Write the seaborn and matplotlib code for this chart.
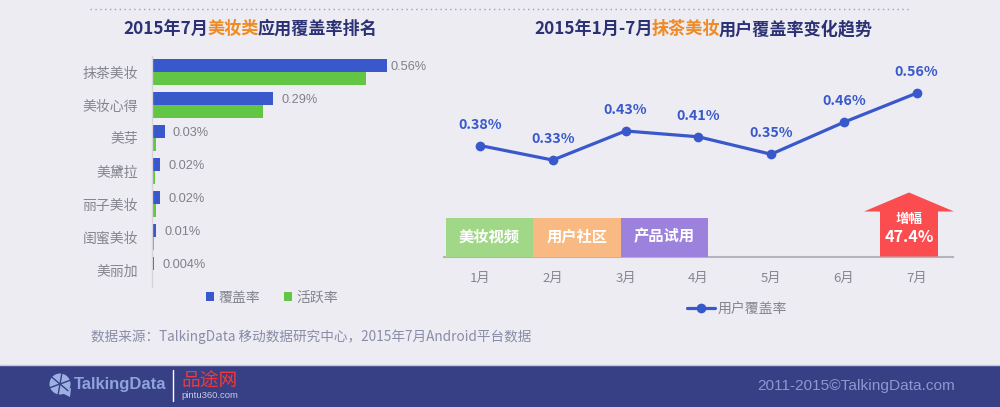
import numpy as np
import pandas as pd
import seaborn as sns
import matplotlib
matplotlib.use('Agg')
import matplotlib.pyplot as plt
from matplotlib.patches import Polygon, Rectangle, Circle

# Left chart data
apps = ['抹茶美妆', '美妆心得', '美芽', '美黛拉', '丽子美妆', '闺蜜美妆', '美丽加']
coverage = [0.56, 0.29, 0.03, 0.02, 0.02, 0.01, 0.004]
activity = [0.511, 0.265, 0.010, 0.008, 0.009, 0.005, 0.0]
coverage_labels = ['0.56%', '0.29%', '0.03%', '0.02%', '0.02%', '0.01%', '0.004%']

# Right chart data
months = ['1月', '2月', '3月', '4月', '5月', '6月', '7月']
trend = [0.38, 0.33, 0.43, 0.41, 0.35, 0.46, 0.56]

BG = '#ECECF2'
BLUE = '#3858CC'
GREEN = '#62C644'
NAVY = '#2B3174'
ORANGE = '#F08A24'
GREY = '#85858F'
W, H = 1000, 407

sns.set_theme(style='white')
plt.rcParams['font.family'] = ['Noto Sans CJK SC', 'DejaVu Sans']
plt.rcParams['axes.unicode_minus'] = False


def px_axes(left, top, right, bottom, **kw):
    return fig.add_axes([left / W, 1 - bottom / H, (right - left) / W, (bottom - top) / H], **kw)


def color_title(x_center, y, parts, size=12.3):
    # parts are drawn one after another, so measure the widths first
    renderer = fig.canvas.get_renderer()
    pieces = [over.text(0, y, t, color=c, fontsize=size, fontweight='bold', va='center_baseline') for t, c in parts]
    widths = [p.get_window_extent(renderer).width - 1 for p in pieces]
    x = x_center - sum(widths) / 2
    for p, w in zip(pieces, widths):
        p.set_x(x)
        x += w


fig = plt.figure(figsize=(W / 100, H / 100), dpi=100, facecolor=BG)

# Overlay in pixel coordinates for titles, blocks and footer
over = fig.add_axes([0, 0, 1, 1], zorder=5)
over.set_xlim(0, W)
over.set_ylim(H, 0)
over.axis('off')

# Left: horizontal bars
ax = px_axes(152, 55.5, 432, 286.5, facecolor='none')
bars = pd.DataFrame({'app': apps * 2,
                     'rate': coverage + activity,
                     'metric': ['覆盖率'] * 7 + ['活跃率'] * 7})
sns.barplot(data=bars, y='app', x='rate', hue='metric', palette=[BLUE, GREEN],
            width=0.79, saturation=1, linewidth=0, ax=ax)
ax.set_xlim(0, 280 / 418.75)
ax.set_xlabel('')
ax.set_ylabel('')
ax.set_xticks([])
sns.despine(ax=ax, top=True, right=True, bottom=True)
ax.spines['left'].set_color('#D4D4DA')
ax.spines['left'].set_linewidth(1)
ax.tick_params(axis='y', length=0, pad=10, labelsize=10, labelcolor=GREY)
for bar, label, offset in zip(ax.containers[0], coverage_labels, [3] + [6] * 6):
    ax.annotate(label, (bar.get_width(), bar.get_y() + bar.get_height() / 2),
                xytext=(offset, -1), textcoords='offset points', va='center',
                family='Liberation Sans', fontsize=9.2, color='#808088')
ax.legend(loc='center', bbox_to_anchor=(272 / W, 1 - 297.5 / H), bbox_transform=fig.transFigure,
          ncol=2, frameon=False, fontsize=10, labelcolor=GREY, handlelength=0.58, handleheight=0.58,
          handletextpad=0.3, columnspacing=1.75)

# Right: coverage line
ax2 = px_axes(443.6, 60, 953, 257, facecolor='none')
line = pd.DataFrame({'month': months, 'rate': trend, 'series': '用户覆盖率'})
sns.lineplot(data=line, x='month', y='rate', hue='series', palette=[BLUE], sort=False,
             marker='o', markersize=7, markeredgewidth=0, linewidth=2.3, ax=ax2)
ax2.set_xlim(-0.5, 6.5)
ax2.set_ylim(-0.0033, 0.674)
ax2.set_xlabel('')
ax2.set_ylabel('')
ax2.set_yticks([])
sns.despine(ax=ax2, top=True, right=True, left=True)
ax2.spines['bottom'].set_color('#B4B4BC')
ax2.spines['bottom'].set_linewidth(1.5)
ax2.tick_params(axis='x', length=0, pad=10.5, labelsize=9.5, labelcolor=GREY)
for i, v in enumerate(trend):
    ax2.annotate(f'{v:.2f}%', (i, v), xytext=(0, 10), textcoords='offset points', ha='center',
                 va='bottom', fontsize=10.3, fontweight='bold', color=BLUE)
ax2.legend(loc='center', bbox_to_anchor=(737 / W, 1 - 309 / H), bbox_transform=fig.transFigure,
           frameon=False, fontsize=10, labelcolor=GREY, handlelength=2.05, handletextpad=0.2)

# Dotted rule and titles
over.plot([90, 908], [9, 9], color='#9A9AE8', linewidth=1, linestyle=(0, (1, 2.5)))
color_title(250, 27, [('2015年7月', NAVY), ('美妆类', ORANGE), ('应用覆盖率排名', NAVY)])
color_title(703, 27, [('2015年1月-7月', NAVY), ('抹茶美妆', ORANGE), ('用户覆盖率变化趋势', NAVY)])

# Feature blocks above the axis
blocks = [(446, 533, '#A0D888', '美妆视频'), (533, 621, '#F8BA82', '用户社区'), (621, 708, '#9C82DC', '产品试用')]
for x0, x1, c, name in blocks:
    over.add_patch(Rectangle((x0, 217.5), x1 - x0, 39, color=c, linewidth=0))
    over.text((x0 + x1) / 2, 241.5, name, color='white', fontsize=11, fontweight='bold', ha='center', va='baseline')

# Growth arrow
over.add_patch(Polygon([(909, 192.5), (954, 211.5), (938, 211.5), (938, 256.5), (880, 256.5), (880, 211.5), (864, 211.5)],
                       closed=True, color='#FB4C50', linewidth=0))
over.text(909, 223.5, '增幅', color='white', fontsize=9.7, fontweight='bold', ha='center', va='baseline')
over.text(909, 242, '47.4%', color='white', fontsize=11.6, fontweight='bold', ha='center', va='baseline')

# Source line
over.text(91, 336.5, '数据来源：TalkingData 移动数据研究中心，2015年7月Android平台数据', color='#8A8CA8',
          fontsize=9.8, va='center')

# Footer
over.add_patch(Rectangle((0, 365), W, 42, color='#373F85', linewidth=0))
over.plot([0, W], [365, 365], color='#C8C8DC', linewidth=1)
over.add_patch(Circle((60, 384), 10.5, color='#9DB0E4', linewidth=0))
over.add_patch(Polygon([(60, 392), (71, 388), (70, 397)], closed=True, color='#9DB0E4', linewidth=0))
for a in [20, 80, 140, 200, 260, 320]:
    over.plot([60, 60 + 10.5 * np.cos(np.radians(a))],
              [384, 384 - 10.5 * np.sin(np.radians(a))],
              color='#373F85', linewidth=1)
over.text(74, 385, 'TalkingData', color='#8FA3DC', fontsize=12, fontweight='bold', va='center',
          family='Liberation Sans')
over.plot([173, 173], [370, 401], color='white', linewidth=1)
over.text(181, 381, '品途网', color='#F03A3A', fontsize=13.5, va='center', family='Noto Sans CJK SC')
over.text(181, 396, 'pintu360.com', color='#C8CCE0', fontsize=6.8, va='center', family='Liberation Sans')
over.text(955, 386, '2011-2015©TalkingData.com', color='#8F97CF', fontsize=11.1, ha='right', va='center',
          family='Liberation Sans')

fig.savefig('out.png', dpi=100, facecolor=BG)
